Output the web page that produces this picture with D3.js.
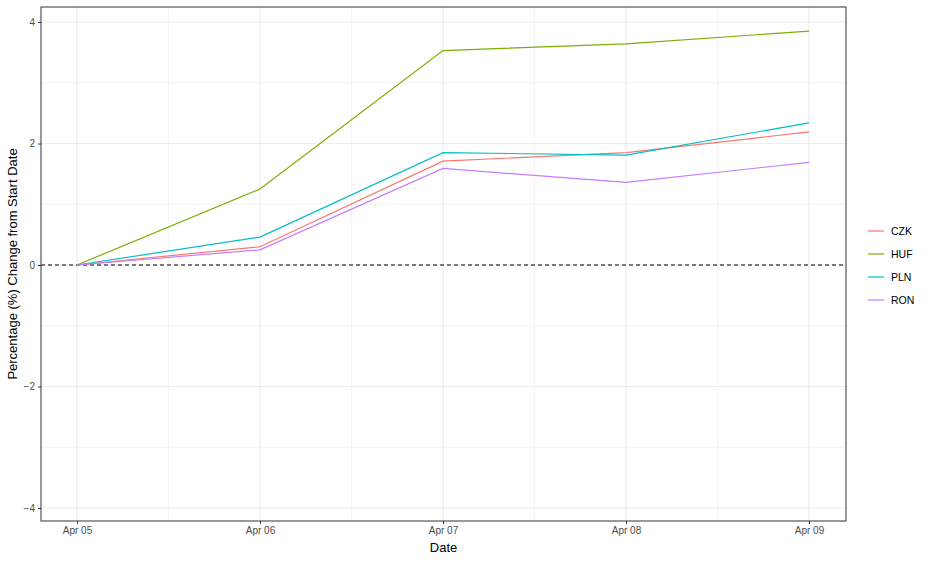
<!DOCTYPE html>
<html><head><meta charset="utf-8">
<script src="https://cdn.jsdelivr.net/npm/d3@7"></script>
<style>body{margin:0;background:#fff}text{font-family:Arial,"Liberation Sans",sans-serif}</style>
</head><body><svg id="c" width="936" height="562"></svg>
<script>
const dates = ["Apr 05","Apr 06","Apr 07","Apr 08","Apr 09"];
const CZK = [0,0.30,1.71,1.85,2.19];
const HUF = [0,1.25,3.53,3.64,3.85];
const PLN = [0,0.46,1.85,1.81,2.34];
const RON = [0,0.25,1.59,1.36,1.69];
const seriesNames = ["CZK","HUF","PLN","RON"];
const colors = ["#F8766D","#7CAE00","#00BFC4","#C77CFF"];
const yTicks = [-4,-2,0,2,4];
const data = [CZK,HUF,PLN,RON];

const svg = d3.select("#c");
const L=41,R=846,T=7,B=521;
const x = d3.scalePoint().domain(d3.range(5)).range([77,809]);
const y = d3.scaleLinear().domain([-4,4]).range([508,22]);
const g = svg.append("g");
// minor grid
[-3,-1,1,3].forEach(v=>g.append("line").attr("x1",L).attr("x2",R).attr("y1",y(v)).attr("y2",y(v)).attr("stroke","#ebebeb").attr("stroke-width",0.6));
[0.5,1.5,2.5,3.5].forEach(v=>{const xv=x(0)+(x(1)-x(0))*v;g.append("line").attr("x1",xv).attr("x2",xv).attr("y1",T).attr("y2",B).attr("stroke","#ebebeb").attr("stroke-width",0.6);});
yTicks.forEach(v=>g.append("line").attr("x1",L).attr("x2",R).attr("y1",y(v)).attr("y2",y(v)).attr("stroke","#ebebeb").attr("stroke-width",1.1));
d3.range(5).forEach(i=>g.append("line").attr("x1",x(i)).attr("x2",x(i)).attr("y1",T).attr("y2",B).attr("stroke","#ebebeb").attr("stroke-width",1.1));
g.append("line").attr("x1",L).attr("x2",R).attr("y1",y(0)).attr("y2",y(0)).attr("stroke","#000").attr("stroke-dasharray","4,3").attr("stroke-width",1.2);
const line=d3.line().x((d,i)=>x(i)).y(d=>y(d));
data.forEach((s,k)=>g.append("path").attr("d",line(s)).attr("fill","none").attr("stroke",colors[k]).attr("stroke-width",1.2));
g.append("rect").attr("x",L).attr("y",T).attr("width",R-L).attr("height",B-T).attr("fill","none").attr("stroke","#333").attr("stroke-width",1);
// axes
const ya=svg.append("g").attr("transform",`translate(${L},0)`).call(d3.axisLeft(y).tickValues(yTicks).tickSize(3).tickFormat(d3.format("d")));
const xa=svg.append("g").attr("transform",`translate(0,${B})`).call(d3.axisBottom(x).tickSize(3).tickFormat(i=>dates[i]));
[ya,xa].forEach(a=>{a.select(".domain").remove();a.selectAll("line").attr("stroke","#333");a.selectAll("text").attr("fill","#4d4d4d").style("font-size","10px");});
svg.append("text").attr("x",(L+R)/2).attr("y",552).attr("text-anchor","middle").style("font-size","13px").text("Date");
svg.append("text").attr("transform",`translate(17,${(T+B)/2}) rotate(-90)`).attr("text-anchor","middle").style("font-size","13px").text("Percentage (%) Change from Start Date");
const lg=svg.append("g").attr("transform","translate(864,231)");
seriesNames.forEach((n,k)=>{lg.append("line").attr("x1",4).attr("x2",20).attr("y1",k*23).attr("y2",k*23).attr("stroke",colors[k]).attr("stroke-width",1.2);
lg.append("text").attr("x",27).attr("y",k*23+4).style("font-size","10.5px").attr("fill","#000").text(n);});
</script></body></html>
